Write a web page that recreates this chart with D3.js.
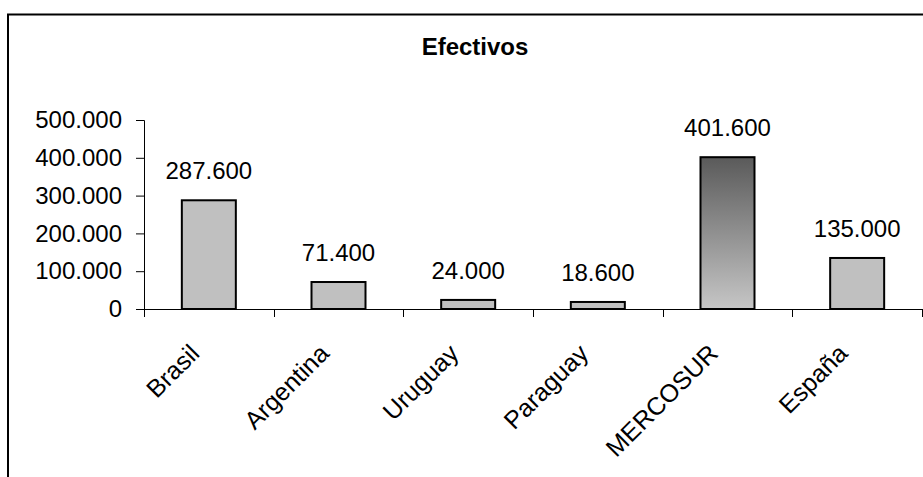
<!DOCTYPE html>
<html>
<head>
<meta charset="utf-8">
<script src="https://cdn.jsdelivr.net/npm/d3@7"></script>
<style>
  html, body { margin: 0; padding: 0; background: #fff; overflow: hidden; }
  text { font-family: "Liberation Sans", Arial, sans-serif; fill: #000; }
</style>
</head>
<body>
<svg id="chart" width="923" height="477"></svg>
<script>
const categories = ["Brasil", "Argentina", "Uruguay", "Paraguay", "MERCOSUR", "España"];
const values = [287600, 71400, 24000, 18600, 401600, 135000];
const yTicks = [0, 100000, 200000, 300000, 400000, 500000];
const title = "Efectivos";

const fmt = v => d3.format(",.0f")(v).replace(/,/g, ".");

const svg = d3.select("#chart");
const plot = { left: 144, right: 922, top: 120, bottom: 309 };

// gradient for MERCOSUR
const defs = svg.append("defs");
const grad = defs.append("linearGradient").attr("id", "gradM")
  .attr("x1", 0).attr("y1", 0).attr("x2", 0).attr("y2", 1);
grad.append("stop").attr("offset", "0%").attr("stop-color", "#5a5a5a");
grad.append("stop").attr("offset", "100%").attr("stop-color", "#c6c6c6");

// chart border
svg.append("rect").attr("x", 8).attr("y", 14.5).attr("width", 1000).attr("height", 1000)
  .attr("fill", "#fff").attr("stroke", "#000").attr("stroke-width", 2);

// title
svg.append("text").attr("x", 475).attr("y", 55).attr("text-anchor", "middle")
  .attr("font-size", 24).attr("font-weight", "bold").text(title);

const x = d3.scaleBand().domain(categories).range([plot.left, plot.right]).padding(0);
const y = d3.scaleLinear().domain([0, 500000]).range([plot.bottom, plot.top]);

const barW = 54;

// y axis
const yAxis = svg.append("g").attr("transform", `translate(${plot.left},0)`)
  .call(d3.axisLeft(y).tickValues(yTicks).tickFormat(fmt).tickSize(8).tickPadding(14));
yAxis.select(".domain").attr("stroke", "#000");
yAxis.selectAll(".tick line").attr("stroke", "#000");
yAxis.selectAll(".tick text").attr("font-size", 24).attr("font-family", "Liberation Sans, Arial, sans-serif").attr("fill", "#000");

// bars
svg.append("g").selectAll("rect").data(categories).join("rect")
  .attr("x", d => x(d) + x.bandwidth() / 2 - barW / 2)
  .attr("y", (d, i) => y(values[i]))
  .attr("width", barW)
  .attr("height", (d, i) => y(0) - y(values[i]))
  .attr("fill", d => d === "MERCOSUR" ? "url(#gradM)" : "#c0c0c0")
  .attr("stroke", "#000").attr("stroke-width", 2);

// x axis
const boundaries = categories.map(c => x(c)).concat([plot.right]);
const xg = svg.append("g");
xg.append("line").attr("x1", plot.left).attr("x2", plot.right + 1)
  .attr("y1", plot.bottom + 0.5).attr("y2", plot.bottom + 0.5).attr("stroke", "#000");
xg.selectAll("line.t").data(boundaries).join("line").attr("class", "t")
  .attr("x1", d => Math.round(d) + 0.5).attr("x2", d => Math.round(d) + 0.5)
  .attr("y1", plot.bottom).attr("y2", plot.bottom + 8).attr("stroke", "#000");

// x labels
svg.append("g").selectAll("text").data(categories).join("text")
  .attr("transform", d => `translate(${x(d) + x.bandwidth() / 2 - 8},355) rotate(-45)`)
  .attr("text-anchor", "end").attr("font-size", 25).text(d => d);

// data labels
svg.append("g").selectAll("text").data(categories).join("text")
  .attr("x", d => x(d) + x.bandwidth() / 2)
  .attr("y", (d, i) => y(values[i]) - 21)
  .attr("text-anchor", "middle").attr("font-size", 24)
  .text((d, i) => fmt(values[i]));
</script>
</body>
</html>
